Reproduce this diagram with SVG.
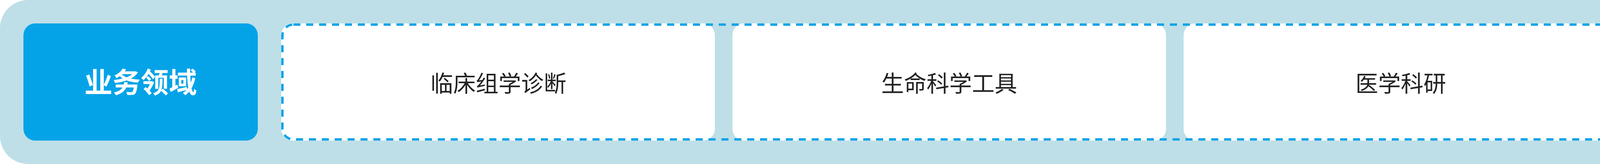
<svg xmlns="http://www.w3.org/2000/svg" width="4200" height="420" viewBox="0 0 4200 420">
  <style>
    .panel { fill: #FFFFFF; }
    .label { font-family: "Noto Sans CJK SC", "Noto Sans", sans-serif; font-size: 58px; fill: #222222; text-anchor: middle; dominant-baseline: central; }
    .title { font-family: "Noto Sans CJK SC", "Noto Sans", sans-serif; font-size: 72px; font-weight: bold; fill: #FFFFFF; text-anchor: middle; dominant-baseline: central; }
  </style>
  <rect id="background" x="0" y="0" width="4200" height="420" rx="72" ry="72" fill="#BEDFE7"/>
  <g id="node-domain">
    <rect x="60" y="60" width="600" height="300" rx="30" ry="30" fill="#04A3E8"/>
    <text class="title" x="360" y="205">业务领域</text>
  </g>
  <g id="node-clinical">
    <rect class="panel" x="720" y="60" width="1110" height="300" rx="30" ry="30"/>
    <text class="label" x="1276" y="210">临床组学诊断</text>
  </g>
  <g id="node-lifescience">
    <rect class="panel" x="1875" y="60" width="1110" height="300" rx="30" ry="30"/>
    <text class="label" x="2430" y="210">生命科学工具</text>
  </g>
  <g id="node-medical">
    <rect class="panel" x="3030" y="60" width="1110" height="300" rx="30" ry="30"/>
    <text class="label" x="3586" y="210">医学科研</text>
  </g>
  <g id="connectors">
    <rect x="723" y="63" width="3420" height="294" rx="28" ry="28" fill="none" stroke="#04A3E8" stroke-width="6" stroke-dasharray="18 15"/>
  </g>
</svg>
